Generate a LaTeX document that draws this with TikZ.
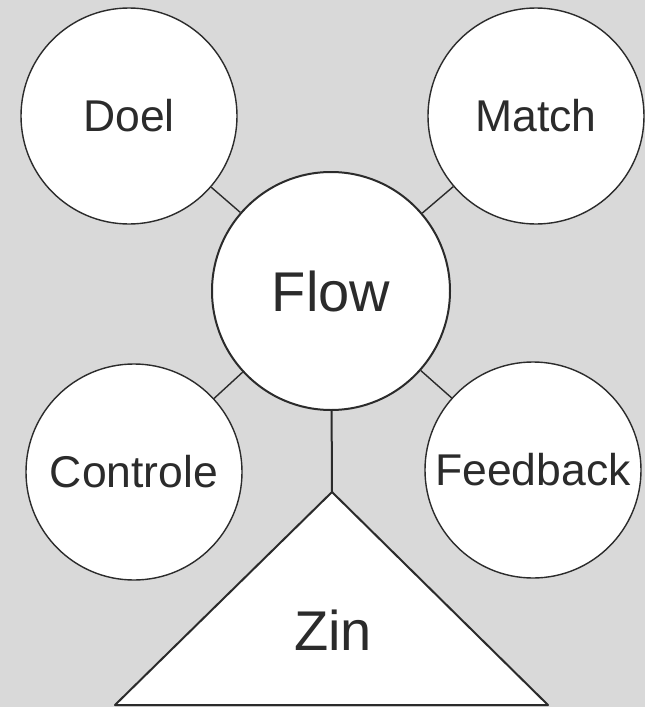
\documentclass[tikz,border=0pt]{standalone}
\usepackage{fontspec}
\setmainfont{Liberation Sans}
\definecolor{fondo}{HTML}{D9D9D9}
\definecolor{trazo}{HTML}{2B2B2B}
\begin{document}
\begin{tikzpicture}[x=1pt,y=-1pt,
  bol/.style={circle,draw=trazo,fill=white,line width=1.4pt,inner sep=0pt,
    minimum size=216pt,text=trazo,font=\fontsize{44.5}{50}\selectfont},
  groot/.style={bol,line width=2pt,minimum size=238pt,font=\fontsize{56}{62}\selectfont},
  lijn/.style={draw=trazo,line width=1.4pt}]
% Fondo
\fill[fondo] (0,0) rectangle (645,707);
\useasboundingbox (0,0) rectangle (645,707);
\node[bol] (doel) at (129,116) {Doel};
\node[bol] (match) at (536,116) {Match};
\node[groot] (flow) at (331,291) {Flow};
\node[bol] (controle) at (134,472) {Controle};
\node[bol] (feedback) at (533,470) {Feedback};
% Driehoek
\coordinate (top) at (332,492);
\coordinate (links) at (115,705);
\coordinate (rechts) at (548,705);
\draw[draw=trazo,fill=white,line width=2pt,line join=round] (top) -- (links) -- (rechts) -- cycle;
\node[text=trazo,font=\fontsize{56}{62}\selectfont] (zin) at (333,630) {Zin};
\draw[lijn] (doel) -- (flow);
\draw[lijn] (match) -- (flow);
\draw[lijn] (controle) -- (flow);
\draw[lijn] (feedback) -- (flow);
\draw[lijn,line width=2pt] (flow) -- (top);
\end{tikzpicture}
\end{document}
